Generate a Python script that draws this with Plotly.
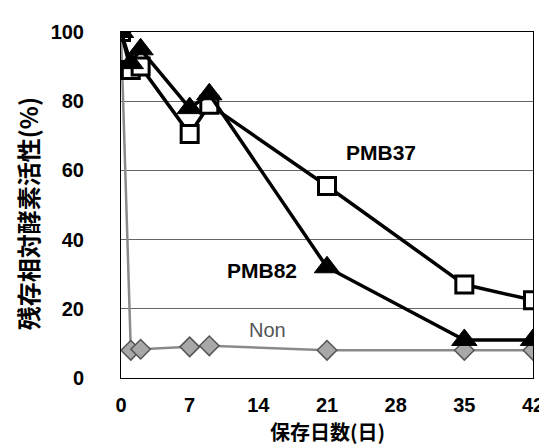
import plotly.graph_objects as go

days_37 = [0, 1, 2, 7, 9, 21, 35, 42]
pmb37 = [100, 89, 90, 70.5, 79, 55.5, 27, 22.5]

days_82 = [0, 1, 2, 7, 9, 21, 35, 42]
pmb82 = [100, 91, 95, 78, 82, 32, 11, 11]

days_non = [0, 1, 2, 7, 9, 21, 35, 42]
non = [100, 8, 8.3, 9, 9.3, 8, 8, 8]

x_ticks = [0, 7, 14, 21, 28, 35, 42]
y_ticks = [0, 20, 40, 60, 80, 100]

fig = go.Figure()
fig.add_trace(go.Scatter(
    x=days_non, y=non, mode="lines+markers", name="Non",
    line=dict(color="#8a8a8a", width=2.5),
    marker=dict(symbol="diamond", size=15, color="#a8a8a8",
                line=dict(color="#555555", width=1.5)),
))
fig.add_trace(go.Scatter(
    x=days_37, y=pmb37, mode="lines+markers", name="PMB37",
    line=dict(color="black", width=3.5),
    marker=dict(symbol="square", size=17, color="white",
                line=dict(color="black", width=3)),
))
fig.add_trace(go.Scatter(
    x=days_82, y=pmb82, mode="lines+markers", name="PMB82",
    line=dict(color="black", width=3.5),
    marker=dict(symbol="triangle-up", size=22, color="black",
                line=dict(color="black", width=1)),
))

num_family = "Liberation Sans, Arial, sans-serif"
num_font = dict(family=num_family, size=20, color="black", weight="bold")
jp_family = "Noto Sans CJK JP, sans-serif"

fig.update_layout(
    width=547, height=447,
    margin=dict(l=113, r=11, t=24, b=77),
    plot_bgcolor="white", paper_bgcolor="white",
    showlegend=False,
    xaxis=dict(
        range=[0, 42], tickvals=x_ticks, ticktext=[str(v) for v in x_ticks],
        showgrid=False, zeroline=False,
        showline=True, linecolor="black", linewidth=1, mirror=True,
        ticks="", tickfont=num_font, ticklabelstandoff=9,
        ticklabeloverflow="allow",
    ),
    yaxis=dict(
        range=[0, 100], tickvals=y_ticks, ticktext=[str(v) for v in y_ticks],
        showgrid=True, gridcolor="#666666", gridwidth=1, zeroline=False,
        showline=True, linecolor="black", linewidth=1, mirror=True,
        ticks="", tickfont=num_font, ticklabelstandoff=32,
        ticklabeloverflow="allow",
    ),
    annotations=[
        dict(x=0.5, y=-0.155, xref="paper", yref="paper", text="保存日数(日)",
             showarrow=False, xanchor="center", yanchor="middle",
             font=dict(family=jp_family, size=20, color="black", weight="bold")),
        dict(x=-0.225, y=0.474, xref="paper", yref="paper", text="残存相対酵素活性(%)",
             showarrow=False, xanchor="center", yanchor="middle", textangle=-90,
             font=dict(family=jp_family, size=24, color="black", weight="bold")),
        dict(x=26.5, y=65.3, xref="x", yref="y", text="PMB37", showarrow=False,
             font=dict(family=num_family, size=21, color="black", weight="bold")),
        dict(x=14.4, y=31.2, xref="x", yref="y", text="PMB82", showarrow=False,
             font=dict(family=num_family, size=21, color="black", weight="bold")),
        dict(x=14.9, y=13.9, xref="x", yref="y", text="Non", showarrow=False,
             font=dict(family=num_family, size=20, color="#555555")),
    ],
)

fig.write_html("out.html")
